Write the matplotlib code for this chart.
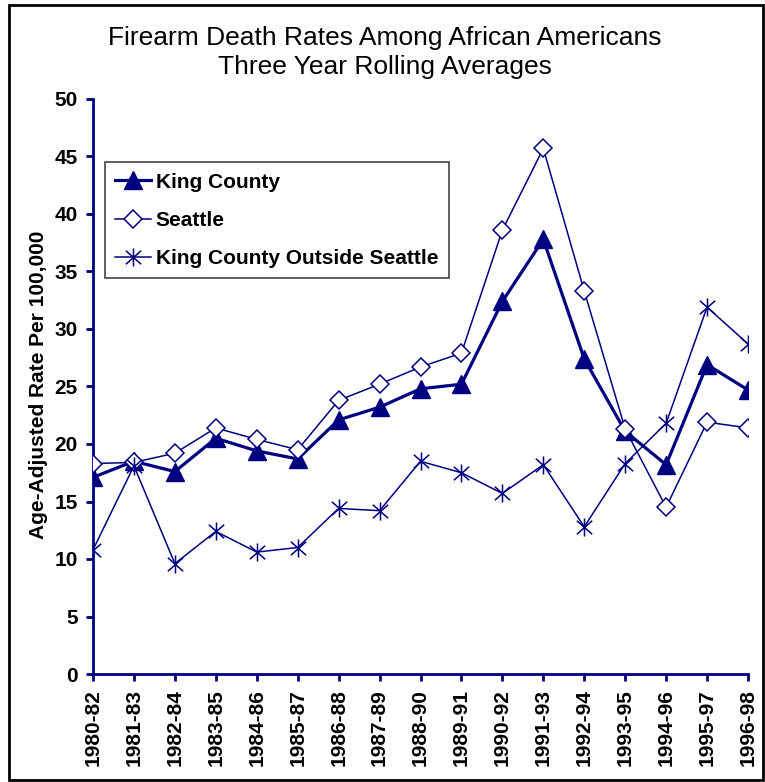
import matplotlib
matplotlib.use('Agg')
import matplotlib.pyplot as plt
from matplotlib.path import Path
from matplotlib.patches import Rectangle

plt.rcParams['font.family'] = ['Liberation Sans', 'DejaVu Sans']

# three year windows
periods = ['1980-82', '1981-83', '1982-84', '1983-85', '1984-86', '1985-87',
           '1986-88', '1987-89', '1988-90', '1989-91', '1990-92', '1991-93',
           '1992-94', '1993-95', '1994-96', '1995-97', '1996-98']

king_county = [17.1, 18.5, 17.6, 20.5, 19.4, 18.7, 22.1, 23.2, 24.8, 25.2,
               32.4, 37.8, 27.4, 21.1, 18.2, 26.9, 24.7]
seattle = [18.3, 18.4, 19.2, 21.4, 20.4, 19.5, 23.8, 25.2, 26.7, 27.9,
           38.6, 45.7, 33.3, 21.3, 14.5, 21.9, 21.4]
outside_seattle = [10.8, 18.1, 9.6, 12.4, 10.6, 11.0, 14.4, 14.2, 18.5, 17.5,
                   15.7, 18.2, 12.8, 18.3, 21.8, 31.9, 28.7]

navy = '#000080'

# excel style star: vertical bar plus an X
star = Path([(0, -1), (0, 1), (-0.85, -0.75), (0.85, 0.75), (-0.85, 0.75), (0.85, -0.75)],
            [Path.MOVETO, Path.LINETO, Path.MOVETO, Path.LINETO, Path.MOVETO, Path.LINETO])

fig = plt.figure(figsize=(7.65, 7.82), dpi=100)
ax = fig.add_axes([93 / 765, 1 - 674 / 782, 655 / 765, 575 / 782])

x = list(range(len(periods)))
ax.plot(x, king_county, color=navy, lw=2.3, marker='^', ms=13,
        mfc=navy, mec=navy, label='King County', zorder=3)
ax.plot(x, seattle, color=navy, lw=1.1, marker='D', ms=9.5,
        mfc='white', mec=navy, mew=1.1, label='Seattle', zorder=4)
ax.plot(x, outside_seattle, color=navy, lw=1.1, marker=star, ms=13,
        mec=navy, mew=1.1, label='King County Outside Seattle', zorder=5)

ax.set_xlim(0, len(periods) - 1)
ax.set_ylim(0, 50)
ax.set_yticks(range(0, 51, 5))
ax.set_xticks(x)
ax.set_xticklabels(periods, rotation=90)

for side in ['top', 'right']:
    ax.spines[side].set_visible(False)
for side in ['left', 'bottom']:
    ax.spines[side].set_color(navy)
    ax.spines[side].set_linewidth(2)

ax.tick_params(axis='both', direction='out', length=5, width=2, color=navy,
               labelsize=15, pad=6)
for lab in ax.get_xticklabels() + ax.get_yticklabels():
    lab.set_fontweight('bold')

ax.set_ylabel('Age-Adjusted Rate Per 100,000', fontsize=15, fontweight='bold')
ax.yaxis.set_label_coords(-0.068, 0.503)

leg = ax.legend(loc='upper left', bbox_to_anchor=(0.018, 0.89), borderaxespad=0,
                fancybox=False, framealpha=1, edgecolor='#444444',
                prop={'size': 15, 'weight': 'bold'}, handlelength=1.7,
                handletextpad=0.25, labelspacing=0.92, borderpad=0.5)
leg.get_frame().set_linewidth(1.2)

fig.text(0.503, 0.933, 'Firearm Death Rates Among African Americans\nThree Year Rolling Averages',
         ha='center', va='center', fontsize=19, linespacing=1.3)

# black border around the whole chart
fig.patches.append(Rectangle((9 / 765, 0.002), 754 / 765, 1 - 5 / 782 - 0.002,
                             transform=fig.transFigure, fill=False,
                             edgecolor='black', lw=2))

plt.savefig('out.png', dpi=100)
